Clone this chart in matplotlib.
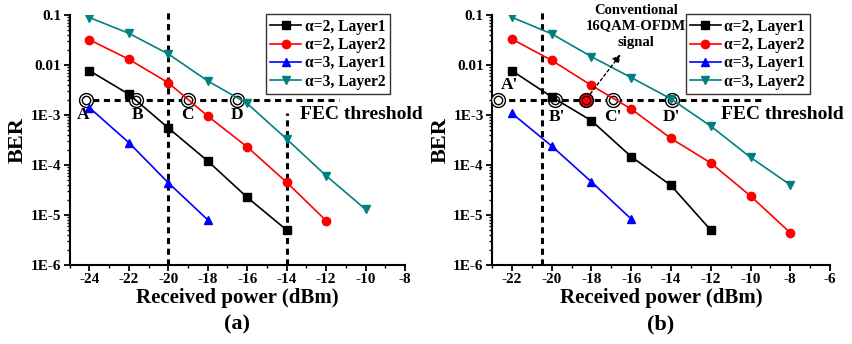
import numpy as np
import matplotlib
matplotlib.use('Agg')
import matplotlib.pyplot as plt

plt.rcParams['font.family'] = ['Liberation Serif', 'DejaVu Serif']
plt.rcParams['font.weight'] = 'bold'

labels = ['α=2, Layer1', 'α=2, Layer2', 'α=3, Layer1', 'α=3, Layer2']
colors = ['black', 'red', 'blue', '#008080']
markers = ['s', 'o', '^', 'v']

# panel (a)
xa = [
    [-24, -22, -20, -18, -16, -14],
    [-24, -22, -20, -18, -16, -14, -12],
    [-24, -22, -20, -18],
    [-24, -22, -20, -18, -16, -14, -12, -10],
]
ya = [
    [7.7e-3, 2.6e-3, 5.5e-4, 1.2e-4, 2.25e-5, 5e-6],
    [0.032, 0.013, 4.4e-3, 9.5e-4, 2.3e-4, 4.5e-5, 7.7e-6],
    [1.4e-3, 2.8e-4, 4.4e-5, 8e-6],
    [0.089, 0.043, 0.0166, 4.8e-3, 1.7e-3, 3.3e-4, 6.1e-5, 1.3e-5],
]
circ_a = [-24.19, -21.64, -19.02, -16.5]
names_a = ['A', 'B', 'C', 'D']
name_xa = [-24.31, -21.57, -19.03, -16.5]

# panel (b)
xb = [
    [-22, -20, -18, -16, -14, -12],
    [-22, -20, -18, -16, -14, -12, -10, -8],
    [-22, -20, -18, -16],
    [-22, -20, -18, -16, -14, -12, -10, -8],
]
yb = [
    [7.7e-3, 2.3e-3, 7.7e-4, 1.47e-4, 3.9e-5, 5e-6],
    [0.033, 0.0124, 3.9e-3, 1.32e-3, 3.4e-4, 1.1e-4, 2.4e-5, 4.4e-6],
    [1.08e-3, 2.4e-4, 4.6e-5, 8.3e-6],
    [0.09, 0.042, 0.0147, 5.6e-3, 2.1e-3, 6e-4, 1.42e-4, 4e-5],
]
circ_b = [-22.68, -19.83, -16.91, -13.96]
names_b = ["A'", "B'", "C'", "D'"]
name_xb = [-22.14, -19.74, -16.92, -14.0]
conv_x = -18.29

fec = 2e-3

fig = plt.figure(figsize=(8.53, 3.44), dpi=100)
axa = fig.add_axes([0.0817, 0.2297, 0.3931, 0.7267])
axb = fig.add_axes([0.5768, 0.2297, 0.3963, 0.7267])


def style(ax, xlim, xt):
    ax.set_yscale('log')
    ax.set_ylim(1e-6, 0.1)
    ax.set_xlim(*xlim)
    ax.set_xticks(xt)
    ax.set_xticks(np.arange(xlim[0], xlim[1] + 1, 1), minor=True)
    ax.set_yticks([1e-6, 1e-5, 1e-4, 1e-3, 0.01, 0.1])
    ax.set_yticklabels(['1E-6', '1E-5', '1E-4', '1E-3', '0.01', '0.1'])
    ax.set_xticklabels([str(v) for v in xt])
    ax.spines['top'].set_visible(False)
    ax.spines['right'].set_visible(False)
    ax.spines['left'].set_linewidth(1.5)
    ax.spines['bottom'].set_linewidth(1.5)
    ax.tick_params(which='major', direction='out', length=4, width=1.3, labelsize=11, pad=2)
    ax.tick_params(which='minor', direction='out', length=2.5, width=1)
    for t in ax.get_xticklabels() + ax.get_yticklabels():
        t.set_fontweight('bold')
    ax.set_xlabel('Received power (dBm)', fontsize=15, fontweight='bold', labelpad=1)
    ax.set_ylabel('BER', fontsize=16, fontweight='bold', labelpad=2)


def curves(ax, xs, ys):
    for x, y, c, m, lb in zip(xs, ys, colors, markers, labels):
        ax.plot(x, y, color=c, marker=m, ms=6 if m != 's' else 5.5, lw=1.2, label=lb, zorder=4)
    leg = ax.legend(loc='upper right', frameon=True, fancybox=False, fontsize=11.2,
                    handlelength=1.95, handletextpad=0.25, labelspacing=0.15,
                    borderpad=0.3, borderaxespad=0)
    leg.get_frame().set_edgecolor('black')
    leg.get_frame().set_linewidth(1)
    return leg


def rings(ax, xs):
    ax.plot(xs, [fec] * len(xs), 'o', ms=10, mfc='white', mec='black', mew=1, zorder=3)
    ax.plot(xs, [fec] * len(xs), 'o', ms=6, mfc='white', mec='black', mew=1, zorder=3)


dash = dict(color='black', lw=2.2, ls=(0, (2, 1.5)), zorder=2)

# (a)
style(axa, (-25, -8), np.arange(-24, -7, 2))
axa.plot([-24.4, -11.35], [fec, fec], **dash)
axa.plot([-20, -20], [1e-6, 0.115], clip_on=False, **dash)
axa.plot([-14, -14], [1e-6, 1.1e-3], **dash)
rings(axa, circ_a)
for nx, nm in zip(name_xa, names_a):
    axa.text(nx, 1.0e-3, nm, ha='center', va='center', fontsize=12.5, fontweight='bold')
axa.text(-13.3, 1.0e-3, 'FEC threshold', ha='left', va='center', fontsize=14,
         fontweight='bold', clip_on=False)
leg = curves(axa, xa, ya)
leg.set_bbox_to_anchor((0.955, 1.004))
axa.text(0.5, -0.24, '(a)', transform=axa.transAxes, ha='center', va='center',
         fontsize=16, fontweight='bold')

# (b)
style(axb, (-23, -6), np.arange(-22, -5, 2))
axb.plot([-22.7, -9.37], [fec, fec], **dash)
axb.plot([-20.5, -20.5], [1e-6, 0.115], clip_on=False, **dash)
rings(axb, circ_b)
axb.plot([conv_x], [fec], 'o', ms=10, mfc='red', mec='black', mew=1, zorder=3)
axb.plot([conv_x], [fec], 'o', ms=6, mfc='red', mec='black', mew=0.8, zorder=3)
name_yb = [4.0e-3, 9.3e-4, 9.3e-4, 9.3e-4]
for nx, ny, nm in zip(name_xb, name_yb, names_b):
    axb.text(nx, ny, nm, ha='center', va='center', fontsize=12.5, fontweight='bold')
axb.text(-11.5, 1.0e-3, 'FEC threshold', ha='left', va='center', fontsize=14,
         fontweight='bold', clip_on=False)
axb.annotate('', xy=(-16.45, 0.018), xytext=(conv_x + 0.15, 2.4e-3),
             arrowprops=dict(arrowstyle='-|>', color='black', lw=1, ls=(0, (2, 2)),
                             mutation_scale=12), zorder=5)
axb.text(-15.75, 0.06, 'Conventional\n16QAM-OFDM\nsignal', ha='center', va='center',
         fontsize=10.5, fontweight='bold', linespacing=1.3, clip_on=False)
leg = curves(axb, xb, yb)
leg.set_bbox_to_anchor((0.94, 1.004))
axb.text(0.5, -0.24, '(b)', transform=axb.transAxes, ha='center', va='center',
         fontsize=16, fontweight='bold')

fig.savefig('out.png', dpi=100)
